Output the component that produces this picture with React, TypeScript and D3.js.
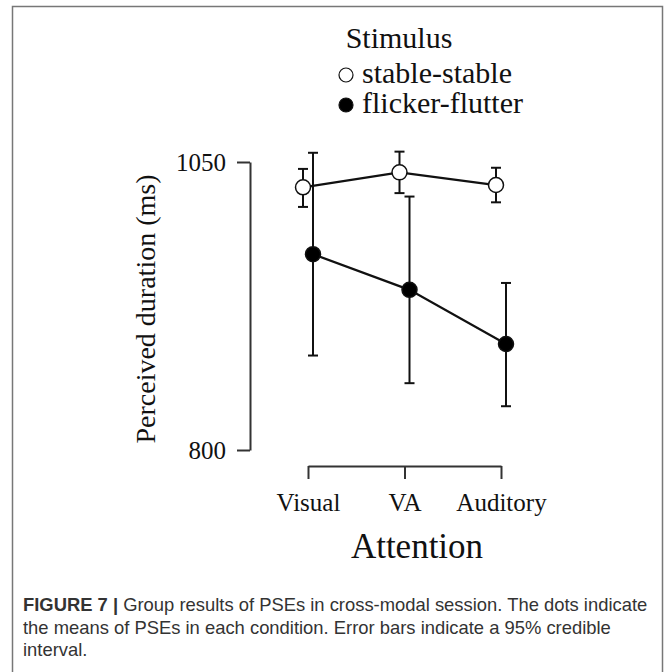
import { useEffect, useRef } from "react";
import * as d3 from "d3";

const width = 672;
const height = 672;

const categories = ["Visual", "VA", "Auditory"];
const seriesNames = ["stable-stable", "flicker-flutter"];
// means and 95% credible intervals (ms)
const stableMean = [1028, 1041, 1030];
const stableLow = [1011, 1023, 1015];
const stableHigh = [1044, 1059, 1045];
const flickerMean = [970, 939, 892];
const flickerLow = [882, 858, 838];
const flickerHigh = [1058, 1020, 945];
const yTicks = [800, 1050];

const captionLines = [
  " Group results of PSEs in cross-modal session. The dots indicate",
  "the means of PSEs in each condition. Error bars indicate a 95% credible",
  "interval.",
];

const serif = "'Liberation Serif', 'Times New Roman', serif";

const App = () => {
  const ref = useRef<SVGSVGElement>(null);

  useEffect(() => {
    const svg = d3.select(ref.current);
    svg.selectAll("*").remove();

    // frame
    svg.append("path")
      .attr("d", "M12.5,672 V6.5 H662.5 V672")
      .attr("fill", "none")
      .attr("stroke", "#777")
      .attr("stroke-width", 1.5);

    const x = d3.scalePoint().domain(categories).range([308, 501]);
    const y = d3.scaleLinear().domain([800, 1050]).range([450, 162]);

    // y axis
    const gy = svg.append("g")
      .attr("transform", "translate(250,0)")
      .call(d3.axisLeft(y).tickValues(yTicks).tickSize(13).tickSizeOuter(0).tickPadding(11).tickFormat(d3.format("d")));
    gy.selectAll("path, line").attr("stroke", "#333").attr("stroke-width", 2);
    gy.selectAll("text").attr("font-family", serif).attr("font-size", 25).attr("fill", "#111");

    // x axis bracket
    const gx = svg.append("g")
      .attr("transform", "translate(0,466)")
      .call(d3.axisBottom(x).tickSize(13).tickSizeOuter(0).tickPadding(14));
    gx.selectAll("path, line").attr("stroke", "#333").attr("stroke-width", 2);
    gx.selectAll("text").attr("font-family", serif).attr("font-size", 25).attr("fill", "#111");

    // axis titles
    svg.append("text")
      .attr("transform", "translate(155,309) rotate(-90)")
      .attr("text-anchor", "middle")
      .attr("font-family", serif)
      .attr("font-size", 28)
      .attr("fill", "#111")
      .text("Perceived duration (ms)");

    svg.append("text")
      .attr("x", 417)
      .attr("y", 558)
      .attr("text-anchor", "middle")
      .attr("font-family", serif)
      .attr("font-size", 35)
      .attr("fill", "#111")
      .text("Attention");

    const series = [
      { name: seriesNames[0], mean: stableMean, low: stableLow, high: stableHigh, fill: "#fff", dx: -5 },
      { name: seriesNames[1], mean: flickerMean, low: flickerLow, high: flickerHigh, fill: "#000", dx: 5 },
    ];

    const line = d3.line<number>()
      .x((_, i) => x(categories[i])!)
      .y(d => y(d));

    series.forEach(s => {
      const g = svg.append("g").attr("transform", `translate(${s.dx},0)`);
      // error bars
      categories.forEach((c, i) => {
        const cx = x(c)!;
        g.append("line")
          .attr("x1", cx).attr("x2", cx)
          .attr("y1", y(s.low[i])).attr("y2", y(s.high[i]))
          .attr("stroke", "#111").attr("stroke-width", 2);
        [s.low[i], s.high[i]].forEach(v => {
          g.append("line")
            .attr("x1", cx - 5).attr("x2", cx + 5)
            .attr("y1", y(v)).attr("y2", y(v))
            .attr("stroke", "#111").attr("stroke-width", 2);
        });
      });
      g.append("path")
        .attr("d", line(s.mean))
        .attr("fill", "none")
        .attr("stroke", "#111")
        .attr("stroke-width", 2.2);
      g.selectAll("circle")
        .data(s.mean)
        .join("circle")
        .attr("cx", (_, i) => x(categories[i])!)
        .attr("cy", d => y(d))
        .attr("r", 7.5)
        .attr("fill", s.fill)
        .attr("stroke", "#111")
        .attr("stroke-width", 1.5);
    });

    // legend
    svg.append("text")
      .attr("x", 399)
      .attr("y", 48)
      .attr("text-anchor", "middle")
      .attr("font-family", serif)
      .attr("font-size", 30)
      .attr("fill", "#111")
      .text("Stimulus");

    const lg = svg.append("g");
    series.forEach((s, i) => {
      const ly = 75 + i * 30;
      lg.append("circle")
        .attr("cx", 346).attr("cy", ly).attr("r", 7)
        .attr("fill", s.fill).attr("stroke", "#111").attr("stroke-width", 1.2);
      lg.append("text")
        .attr("x", 362).attr("y", ly + 8)
        .attr("font-family", serif)
        .attr("font-size", 30)
        .attr("fill", "#111")
        .text(s.name);
    });

    // caption
    const cap = svg.append("g")
      .attr("font-family", "'Liberation Sans', Arial, sans-serif")
      .attr("font-size", 18.4)
      .attr("fill", "#333");
    captionLines.forEach((t, i) => {
      const txt = cap.append("text").attr("x", 23).attr("y", 611 + i * 22.5);
      if (i === 0) {
        txt.append("tspan").attr("font-weight", "bold").text("FIGURE 7 |");
      }
      txt.append("tspan").text(t);
    });
  }, []);

  return (
    <svg
      ref={ref}
      width={width}
      height={height}
      style={{ position: "absolute", left: 0, top: 0, background: "#fff" }}
    />
  );
};

export default App;
